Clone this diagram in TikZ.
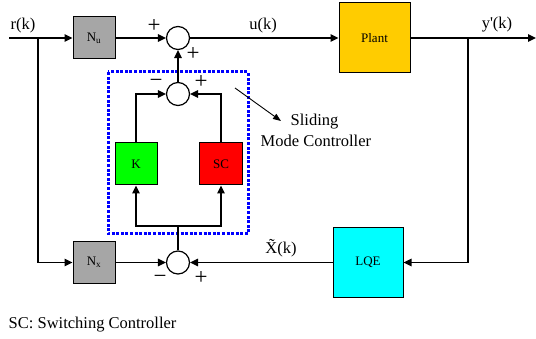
\documentclass[tikz,border=0pt]{standalone}
\usepackage{fontspec}
\setmainfont{Liberation Serif}
\usetikzlibrary{arrows.meta}
\definecolor{nugray}{HTML}{A6A6A6}
\definecolor{kgreen}{HTML}{00FF00}
\definecolor{scred}{HTML}{FF0000}
\definecolor{plantyel}{HTML}{FFCC00}
\definecolor{lqecyan}{HTML}{00FFFF}
\definecolor{smcblue}{HTML}{0000FF}
\begin{document}
\begin{tikzpicture}[x=1pt,y=-1pt,
  line width=1.4pt,
  >={Triangle[length=8pt,width=7.5pt]},
  blk/.style={draw, line width=1pt, minimum width=42pt, minimum height=42pt, inner sep=0pt, font=\fontsize{13}{15}\selectfont},
  sumc/.style={draw, circle, fill=white, minimum size=23pt, inner sep=0pt, line width=1.2pt},
  lbl/.style={font=\fontsize{16.5}{19}\selectfont, inner sep=0pt},
  sgn/.style={font=\fontsize{23}{25}\selectfont, inner sep=0pt},
  smcbox/.style={draw=smcblue, line width=3pt, dash pattern=on 3pt off 1.6pt},
  pointer/.style={line width=0.9pt, -{Triangle[length=8pt,width=6pt]}}
]
\useasboundingbox (0,0) rectangle (536,339);

% Sliding mode controller frame
\draw[smcbox] (108,72) rectangle (248,234);

% blocks
\node[blk, fill=nugray] (nu) at (94,38) {N\textsubscript{u}};
\node[blk, fill=nugray] (nx) at (94,262.5) {N\textsubscript{x}};
\node[blk, fill=kgreen] (k) at (136,164) {K};
\node[blk, fill=scred, minimum width=43pt] (sc) at (221,164) {SC};
\node[blk, fill=plantyel, minimum width=71pt, minimum height=70pt] (plant) at (374.5,38) {Plant};
\node[blk, fill=lqecyan, minimum width=70pt, minimum height=70pt] (lqe) at (368,262.5) {LQE};

% summing junctions
\node[sumc] (s1) at (178,38) {};
\node[sumc] (s2) at (178,94) {};
\node[sumc] (s3) at (178,262.5) {};

% coordinates
\coordinate (rin) at (9,38);
\coordinate (j1) at (38,38);
\coordinate (j2) at (468,38);
\coordinate (yout) at (536,38);
\coordinate (split) at (178,226);
\coordinate (pstart) at (235,88);
\coordinate (ptip) at (281,121);

% connectors
\draw[->] (rin) -- (nu);
\draw[->] (j1) |- (nx);
\draw[->] (nu) -- (s1);
\draw[->] (s1) -- (plant);
\draw[->] (plant) -- (yout);
\draw[->] (j2) |- (lqe);
\draw[->] (lqe) -- (s3);
\draw[->] (nx) -- (s3);
\draw (s3) -- (split);
\draw[->] (split) -| (k.south);
\draw[->] (split) -| (sc.south);
\draw[->] (k) |- (s2);
\draw[->] (sc) |- (s2);
\draw[->] (s2) -- (s1);
\draw[pointer] (pstart) -- (ptip);

% signals
\node[lbl] (rk) at (23,26) {r(k)};
\node[lbl] (uk) at (263,26) {u(k)};
\node[lbl] (yk) at (497,25) {y\textquotesingle(k)};
\node[lbl] (xk) at (281,248) {\~{X}(k)};

% signs
\node[sgn] (p1) at (154,26) {+};
\node[sgn] (p2) at (193,54) {+};
\node[sgn] (m2) at (156,83) {−};
\node[sgn] (p3) at (201,82) {+};
\node[sgn] (m3) at (160,279) {−};
\node[sgn] (p4) at (201,278) {+};

% annotations
\node[lbl, anchor=west] (sliding) at (290,122) {Sliding};
\node[lbl, anchor=west] (mode) at (260,141) {Mode Controller};
\node[lbl, anchor=west] (note) at (8,325) {SC: Switching Controller};
\end{tikzpicture}
\end{document}
